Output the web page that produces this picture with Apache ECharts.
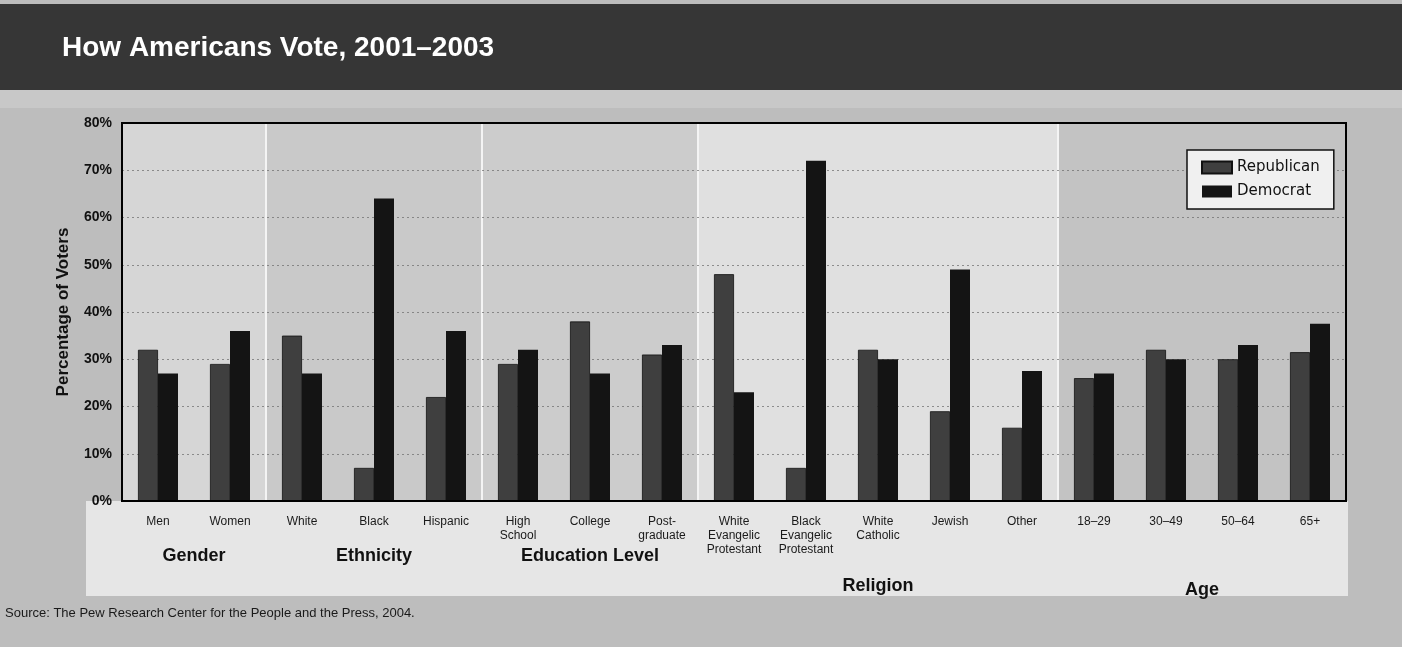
<!DOCTYPE html>
<html><head><meta charset="utf-8">
<script src="https://cdn.jsdelivr.net/npm/echarts@6/dist/echarts.min.js"></script>
<style>html,body{margin:0;padding:0;background:#bdbdbd}#c{width:1402px;height:647px}</style>
</head><body><div id="c"></div>
<script>
const titleText = 'How Americans Vote, 2001\u20132003';
const sourceText = 'Source: The Pew Research Center for the People and the Press, 2004.';
const categories = ['Men','Women','White','Black','Hispanic','High\nSchool','College','Post-\ngraduate',
  'White\nEvangelic\nProtestant','Black\nEvangelic\nProtestant','White\nCatholic','Jewish','Other',
  '18\u201329','30\u201349','50\u201364','65+'];
const republican = [32,29,35,7,22,29,38,31,48,7,32,19,15.5,26,32,30,31.5];
const democrat   = [27,36,27,64,36,32,27,33,23,72,30,49,27.5,27,30,33,37.5];
const groups = ['Gender','Ethnicity','Education Level','Religion','Age'];
const groupSizes = [2,3,3,5,4];
const yMin = 0, yMax = 80, yStep = 10;

// styling (not data)
const panelColors = ['#d6d6d6','#c9c9c9','#cccccc','#e0e0e0','#c3c3c3'];
const groupLabelY = [556,556,556,586,590];

const chart = echarts.init(document.getElementById('c'));
const FONT = '"Liberation Sans", Arial, sans-serif';
chart.setOption({
  animation:false,
  backgroundColor:'#bdbdbd',
  grid:{left:122,right:56,top:123,bottom:146,show:true,backgroundColor:'transparent',borderColor:'#000',borderWidth:2,z:3},
  legend:{
    data:['Republican','Democrat'], orient:'vertical', left:1187, top:150,
    backgroundColor:'#f0f0f0', borderColor:'#111', borderWidth:1.5,
    padding:[10,14,10,14], itemGap:9, itemWidth:30, itemHeight:12, icon:'rect',
    textStyle:{fontFamily:'DejaVu Sans',fontSize:15,color:'#111'}
  },
  xAxis:[{
    type:'category', data:categories, z:5,
    axisLine:{lineStyle:{color:'#000',width:2}}, axisTick:{show:false},
    axisLabel:{interval:0, margin:14, fontSize:12, lineHeight:14, color:'#1a1a1a', fontFamily:FONT}
  },{type:'value', min:0, max:categories.length, show:false}],
  yAxis:{
    type:'value', min:yMin, max:yMax, interval:yStep,
    name:'Percentage of Voters', nameLocation:'middle', nameGap:50, nameRotate:90,
    nameTextStyle:{fontFamily:FONT,fontWeight:'bold',fontSize:17,color:'#111'},
    axisLine:{show:true,lineStyle:{color:'#000',width:2}}, axisTick:{show:false},
    axisLabel:{formatter:'{value}%', margin:10, fontFamily:FONT, fontWeight:'bold', fontSize:14, color:'#111'},
    splitLine:{lineStyle:{color:'#6a6a6a',type:[2,3],width:1,opacity:0.7}}
  },
  series:[
    {name:'Republican',type:'bar',data:republican,barWidth:20,barGap:'0%',
     itemStyle:{color:'#3f3f3f',borderColor:'#111',borderWidth:0.8}},
    {name:'Democrat',type:'bar',data:democrat,barWidth:20,barGap:'0%',
     itemStyle:{color:'#141414'}}
  ]
});

const px = v => chart.convertToPixel({xAxisIndex:1}, v);
const py = v => chart.convertToPixel({yAxisIndex:0}, v);
const bounds = [0];
groupSizes.forEach(s => bounds.push(bounds[bounds.length-1] + s));
const yTop = py(yMax), yBot = py(yMin);
const g = [];
// title band
g.push({type:'rect', shape:{x:0,y:4,width:1402,height:86}, style:{fill:'#363636'}, z:-20});
g.push({type:'rect', shape:{x:0,y:90,width:1402,height:18}, style:{fill:'#c8c8c8'}, z:-20});
g.push({type:'text', left:62, top:34, style:{text:titleText, fill:'#fff', font:'bold 28px '+FONT}, z:10});
// plot area panels
g.push({type:'rect', shape:{x:px(0),y:yTop,width:px(bounds[bounds.length-1])-px(0),height:yBot-yTop}, style:{fill:'#f4f4f4'}, z:-10});
for (let i=0;i<groups.length;i++){
  const x0 = px(bounds[i]), x1 = px(bounds[i+1]);
  g.push({type:'rect', shape:{x:x0+(i?1:0), y:yTop, width:x1-x0-(i?1:0)-(i<groups.length-1?1:0), height:yBot-yTop}, style:{fill:panelColors[i]}, z:-9});
}
// label band under axis
g.push({type:'rect', shape:{x:86,y:yBot,width:px(bounds[bounds.length-1])+2-86,height:95}, style:{fill:'#e6e6e6'}, z:-10});
for (let i=0;i<groups.length;i++){
  const cx = px((bounds[i]+bounds[i+1])/2);
  g.push({type:'text', x:cx, y:groupLabelY[i], style:{text:groups[i], fill:'#111', font:'bold 18px "Liberation Sans Narrow", '+FONT, align:'center', verticalAlign:'middle'}, z:10});
}
g.push({type:'text', left:5, top:607, style:{text:sourceText, fill:'#1a1a1a', font:'13px '+FONT}, z:10});
chart.setOption({graphic:g});
</script></body></html>
